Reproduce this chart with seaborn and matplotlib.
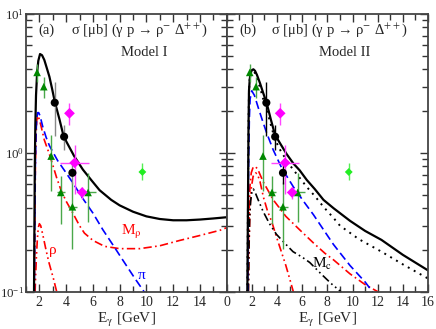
import numpy as np
import pandas as pd
import matplotlib
matplotlib.use("Agg")
import matplotlib.pyplot as plt
import seaborn as sns
from matplotlib.ticker import LogLocator, MultipleLocator, FixedLocator, NullFormatter

# ---- data ----
# panel (a), Model I
a_tot_E = [1.60, 1.63, 1.66, 1.70, 1.75, 1.83, 1.92, 2.05, 2.2, 2.37, 2.55, 2.75, 2.95, 3.17, 3.5, 3.82,
           4.2, 4.6, 5.25, 5.87, 6.5, 7.37, 8.0, 9.0, 10.0, 11.0, 12.0, 13.0, 14.0, 15.0, 16.0]
a_tot_s = [0.1, 0.3, 0.8, 1.6, 2.6, 3.75, 4.6, 5.15, 5.05, 4.67, 4.1, 3.54, 2.9, 2.3, 1.75, 1.31,
           1.12, 0.95, 0.76, 0.64, 0.54, 0.46, 0.42, 0.378, 0.35, 0.335, 0.328, 0.328, 0.332, 0.338, 0.345]
a_pi_E = [1.62, 1.66, 1.70, 1.75, 1.80, 1.87, 1.95, 2.05, 2.25, 2.5, 2.75, 3.0, 3.37, 3.87, 4.5, 5.25,
          6.0, 6.75, 7.5, 8.3, 9.12, 10.0]
a_pi_s = [0.1, 0.35, 0.8, 1.4, 1.75, 1.95, 1.95, 1.85, 1.55, 1.3, 1.13, 1.02, 0.88, 0.75, 0.61, 0.47,
          0.37, 0.28, 0.218, 0.166, 0.126, 0.095]
a_mrho_E = [1.62, 1.66, 1.70, 1.75, 1.80, 1.87, 1.95, 2.1, 2.37, 2.75, 3.0, 3.3, 3.62, 4.0, 4.5, 5.0,
            5.37, 6.0, 6.87, 8.0, 9.5, 11.0, 12.5, 14.0, 15.5, 16.0]
a_mrho_s = [0.1, 0.3, 0.75, 1.3, 1.7, 1.85, 1.8, 1.6, 1.24, 0.98, 0.82, 0.66, 0.54, 0.45, 0.37, 0.3,
            0.265, 0.235, 0.213, 0.205, 0.205, 0.215, 0.235, 0.255, 0.278, 0.29]
a_rho_E = [1.68, 1.72, 1.78, 1.85, 1.92, 2.0, 2.1, 2.25, 2.5, 2.7, 2.87, 3.05, 3.3]
a_rho_s = [0.1, 0.13, 0.18, 0.24, 0.29, 0.31, 0.3, 0.26, 0.2, 0.165, 0.144, 0.125, 0.1]

# panel (b), Model II
b_tot_E = [1.64, 1.67, 1.70, 1.73, 1.77, 1.83, 1.9, 2.0, 2.12, 2.25, 2.4, 2.65, 2.9, 3.18, 3.5, 3.84,
           4.3, 4.77, 5.3, 5.8, 6.36, 7.0, 7.69, 8.5, 9.8, 11.0, 12.3, 14.0, 16.0]
b_tot_s = [0.1, 0.25, 0.6, 1.5, 2.8, 3.4, 3.75, 3.95, 4.0, 3.9, 3.65, 3.17, 2.7, 2.28, 1.75, 1.35,
           1.15, 0.98, 0.84, 0.75, 0.64, 0.55, 0.46, 0.4, 0.325, 0.275, 0.237, 0.185, 0.143]
b_dot_E = [1.64, 1.67, 1.70, 1.73, 1.77, 1.83, 1.9, 2.0, 2.12, 2.25, 2.4, 2.65, 2.9, 3.18, 3.5, 3.84,
           4.3, 5.0, 5.7, 6.36, 7.0, 7.69, 8.5, 9.0, 10.5, 12.3, 14.0, 16.0]
b_dot_s = [0.1, 0.25, 0.6, 1.5, 2.8, 3.4, 3.75, 3.9, 3.9, 3.75, 3.45, 2.95, 2.45, 2.05, 1.6, 1.25,
           1.03, 0.82, 0.68, 0.57, 0.49, 0.41, 0.34, 0.3, 0.24, 0.195, 0.158, 0.125]
b_pi_E = [1.66, 1.70, 1.75, 1.80, 1.86, 1.99, 2.2, 2.52, 2.85, 3.18, 3.7, 4.37, 5.3, 6.1, 6.89, 7.7,
          8.48, 9.8, 11.0, 11.6]
b_pi_s = [0.1, 0.4, 1.0, 1.8, 2.45, 2.8, 2.6, 2.1, 1.7, 1.39, 1.05, 0.78, 0.57, 0.45, 0.36, 0.28,
          0.22, 0.155, 0.118, 0.1]
b_mrho_E = [1.68, 1.72, 1.78, 1.85, 1.95, 2.1, 2.25, 2.45, 2.9, 3.7, 4.7, 5.8, 6.9, 7.8, 8.5, 9.8, 11.0, 12.05]
b_mrho_s = [0.1, 0.2, 0.38, 0.58, 0.72, 0.79, 0.8, 0.77, 0.62, 0.46, 0.35, 0.28, 0.225, 0.19, 0.17,
            0.135, 0.113, 0.1]
b_rho_E = [1.72, 1.78, 1.85, 1.95, 2.1, 2.3, 2.45, 2.65, 2.92, 3.25, 3.58, 3.95, 4.3, 4.7, 5.0, 5.3]
b_rho_s = [0.1, 0.22, 0.4, 0.56, 0.68, 0.72, 0.7, 0.62, 0.48, 0.38, 0.32, 0.25, 0.2, 0.155, 0.125, 0.1]
b_mc_E = [1.72, 1.76, 1.82, 1.9, 2.0, 2.12, 2.3, 2.5, 2.89, 3.4, 3.95, 4.6, 5.27, 6.0, 6.6, 7.5, 8.3, 9.1]
b_mc_s = [0.1, 0.2, 0.34, 0.45, 0.52, 0.55, 0.51, 0.46, 0.38, 0.31, 0.26, 0.225, 0.195, 0.178, 0.163,
          0.135, 0.115, 0.1]

# experimental points (same in both panels)
tri_E = [1.83, 2.33, 2.88, 3.6, 4.47, 5.64]
tri_s = [3.8, 3.0, 0.95, 0.52, 0.41, 0.52]
tri_lo = [3.25, 2.47, 0.53, 0.31, 0.205, 0.32]
tri_hi = [4.4, 3.54, 1.35, 0.68, 0.62, 0.72]
tri_xl = [1.83, 2.33, 2.88, 3.3, 4.15, 5.05]
tri_xh = [1.83, 2.33, 2.88, 3.9, 4.85, 6.2]

circ_E = [3.15, 3.85, 4.47]
circ_s = [2.3, 1.31, 0.72]
circ_lo = [1.33, 1.05, 0.6]
circ_hi = [3.25, 1.58, 0.85]

dia_E = [4.25, 4.64, 5.2]
dia_s = [1.93, 0.85, 0.52]
dia_lo = [1.58, 0.51, 0.47]
dia_hi = [2.3, 1.14, 0.57]
dia_xl = [4.25, 3.55, 5.2]
dia_xh = [4.25, 5.72, 5.2]

lg_E = [9.7]
lg_s = [0.73]
lg_lo = [0.64]
lg_hi = [0.85]

sns.set_theme(style="ticks")
plt.rcParams['font.family'] = ['Liberation Serif', 'DejaVu Serif']
plt.rcParams['mathtext.fontset'] = 'stix'

fig = plt.figure(figsize=(4.36, 3.29), dpi=100)
ax1 = fig.add_axes([0.0596, 0.1125, 0.4603, 0.845])
ax2 = fig.add_axes([0.52, 0.1125, 0.4617, 0.845], sharey=ax1)

DASH = (0, (5, 2.5))
DASHDOT = (0, (5, 2, 1, 2))
DASHDOTDOT = (0, (5, 2, 1, 2, 1, 2))
DOT = (0, (1, 2.5))


def curve(ax, x, y, color, ls, lw=1.2):
    sns.lineplot(x=x, y=y, ax=ax, color=color, linestyle=ls, linewidth=lw,
                 sort=False, estimator=None, legend=False)


def points(ax, bar_circ):
    ax.errorbar(tri_E, tri_s,
                yerr=[np.array(tri_s) - np.array(tri_lo), np.array(tri_hi) - np.array(tri_s)],
                xerr=[np.array(tri_E) - np.array(tri_xl), np.array(tri_xh) - np.array(tri_E)],
                fmt='none', ecolor='#4aa84a', elinewidth=1.0, zorder=4)
    ax.errorbar(circ_E, circ_s,
                yerr=[np.array(circ_s) - np.array(circ_lo), np.array(circ_hi) - np.array(circ_s)],
                fmt='none', ecolor=bar_circ, elinewidth=1.0, zorder=4)
    ax.errorbar(dia_E, dia_s,
                yerr=[np.array(dia_s) - np.array(dia_lo), np.array(dia_hi) - np.array(dia_s)],
                xerr=[np.array(dia_E) - np.array(dia_xl), np.array(dia_xh) - np.array(dia_E)],
                fmt='none', ecolor='#ff44ff', elinewidth=1.0, zorder=4)
    ax.errorbar(lg_E, lg_s,
                yerr=[np.array(lg_s) - np.array(lg_lo), np.array(lg_hi) - np.array(lg_s)],
                xerr=0.1, fmt='none', ecolor='#55ee55', elinewidth=1.0, zorder=4)
    sns.scatterplot(x=tri_E, y=tri_s, ax=ax, marker='^', s=30, color='#008800', edgecolor='none', zorder=5)
    sns.scatterplot(x=circ_E, y=circ_s, ax=ax, marker='o', s=34, color='black', edgecolor='none', zorder=5)
    sns.scatterplot(x=dia_E, y=dia_s, ax=ax, marker='D', s=30, color='#ff00ff', edgecolor='none', zorder=5)
    sns.scatterplot(x=lg_E, y=lg_s, ax=ax, marker='D', s=16, color='#22ee22', edgecolor='none', zorder=5)


# panel (a)
curve(ax1, a_rho_E, a_rho_s, 'red', DASHDOTDOT)
curve(ax1, a_mrho_E, a_mrho_s, 'red', DASHDOT)
curve(ax1, a_pi_E, a_pi_s, 'blue', DASH)
curve(ax1, a_tot_E, a_tot_s, 'black', '-', 1.6)
points(ax1, '#888888')

# panel (b)
curve(ax2, b_rho_E, b_rho_s, 'red', DASHDOTDOT)
curve(ax2, b_mrho_E, b_mrho_s, 'red', DASHDOT)
curve(ax2, b_mc_E, b_mc_s, 'black', DASHDOTDOT)
curve(ax2, b_pi_E, b_pi_s, 'blue', DASH)
curve(ax2, b_dot_E, b_dot_s, 'black', DOT, 1.4)
curve(ax2, b_tot_E, b_tot_s, 'black', '-', 1.6)
points(ax2, 'black')

for ax in (ax1, ax2):
    ax.set_yscale('log')
    ax.set_ylim(0.1, 10)
    ax.yaxis.set_major_locator(LogLocator(base=10, numticks=5))
    ax.yaxis.set_minor_locator(LogLocator(base=10, subs=np.arange(2, 10), numticks=20))
    ax.yaxis.set_minor_formatter(NullFormatter())
    ax.xaxis.set_minor_locator(MultipleLocator(1))
    ax.tick_params(which='both', direction='in', top=True, right=True, labelsize=10,
                   color='#333333', width=1.0, pad=3)
    ax.tick_params(which='major', length=6)
    ax.tick_params(which='minor', length=4)
    for sp in ax.spines.values():
        sp.set_color('#444444')
        sp.set_linewidth(1.3)
    ax.set_xlabel('E$_{\\mathrm{\\gamma}}$ [GeV]', fontsize=11, labelpad=1)
    ax.set_ylabel('')

ax1.tick_params(axis='y', pad=1.5, labelsize=9.3)
ax1.set_xlim(1, 16)
ax1.xaxis.set_major_locator(FixedLocator([2, 4, 6, 8, 10, 12, 14]))
ax2.set_xlim(0, 16)
ax2.xaxis.set_major_locator(MultipleLocator(2))
ax2.tick_params(labelleft=False)

title = 'σ [μb] (γ p → ρ$^{-}$ Δ$^{++}$)'
ax1.text(0.06, 0.942, '(a)', transform=ax1.transAxes, fontsize=10.5, va='center')
ax1.text(0.225, 0.942, title, transform=ax1.transAxes, fontsize=10.5, va='center')
ax1.text(0.588, 0.863, 'Model I', transform=ax1.transAxes, fontsize=10.5, va='center', ha='center')
ax2.text(0.062, 0.942, '(b)', transform=ax2.transAxes, fontsize=10.5, va='center')
ax2.text(0.22, 0.942, title, transform=ax2.transAxes, fontsize=10.5, va='center')
ax2.text(0.588, 0.863, 'Model II', transform=ax2.transAxes, fontsize=10.5, va='center', ha='center')

ax1.text(8.1, 0.27, 'M$_{\\mathrm{\\rho}}$', color='red', fontsize=11, va='center')
ax1.text(2.7, 0.2, 'ρ', color='red', fontsize=11, va='center')
ax1.text(9.35, 0.132, 'π', color='blue', fontsize=11, va='center')
ax2.text(6.8, 0.158, 'M$_{\\mathrm{c}}$', color='black', fontsize=11, va='center')

fig.savefig('out.png', dpi=100)
